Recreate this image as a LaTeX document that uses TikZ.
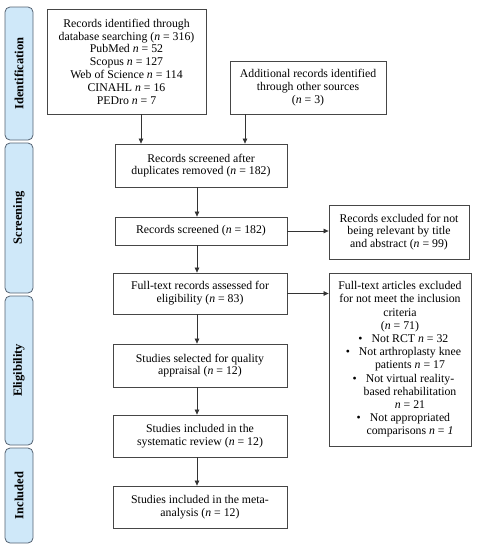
\documentclass[tikz,border=0pt]{standalone}
\usepackage{fontspec}
\setmainfont{Liberation Serif}
\usetikzlibrary{arrows.meta}
\definecolor{barfill}{RGB}{207,232,249}
\definecolor{barline}{RGB}{84,98,114}
\definecolor{boxline}{RGB}{70,70,70}
\newcommand\itm[1]{\hspace*{20pt}\llap{\textbullet\hspace{9pt}}#1}
\newcommand\cont[1]{\hspace*{20pt}#1}
\begin{document}
\begin{tikzpicture}[x=1pt,y=-1pt,
  box/.style={draw=boxline, line width=0.8pt, align=center, inner sep=2pt,
    font=\fontsize{11.8}{12.8}\selectfont},
  bar/.style={draw=barline, fill=barfill, line width=0.8pt, rounded corners=5pt,
    rotate=90, minimum height=28pt, inner sep=0pt,
    font=\fontsize{12.5}{14}\selectfont\bfseries},
  arr/.style={draw=black!80, line width=0.7pt, -{Triangle[length=5pt,width=4.5pt]}}
]
\path[use as bounding box] (0,0) rectangle (479,550);

% phase bars
\node[bar, minimum width=133pt] (pid) at (19,73.5) {Identification};
\node[bar, minimum width=150pt] (psc) at (19,218) {Screening};
\node[bar, minimum width=149pt] (pel) at (19,370.5) {Eligibility};
\node[bar, minimum width=95pt] (pin) at (19,495.5) {Included};

% boxes
\node[box, minimum width=159pt, minimum height=105pt] (b1) at (126.5,61.5)
  {Records identified through\\database searching (\textit{n} = 316)\\PubMed \textit{n} = 52\\Scopus \textit{n} = 127\\Web of Science \textit{n} = 114\\CINAHL \textit{n} = 16\\PEDro \textit{n} = 7};
\node[box, minimum width=156pt, minimum height=53pt] (b2) at (308,87.5)
  {Additional records identified\\through other sources\\(\textit{n} = 3)};
\node[box, minimum width=172pt, minimum height=43pt] (b3) at (201,165.5)
  {Records screened after\\duplicates removed (\textit{n} = 182)};
\node[box, minimum width=172pt, minimum height=28pt] (b4) at (201,231)
  {Records screened (\textit{n} = 182)};
\node[box, minimum width=174pt, minimum height=41pt] (b5) at (200,293.5)
  {Full-text records assessed for\\eligibility (\textit{n} = 83)};
\node[box, minimum width=174pt, minimum height=43pt] (b6) at (200,365.5)
  {Studies selected for quality\\appraisal (\textit{n} = 12)};
\node[box, minimum width=174pt, minimum height=42pt] (b7) at (200,436)
  {Studies included in the\\systematic review (\textit{n} = 12)};
\node[box, minimum width=174pt, minimum height=42pt] (b8) at (200,507)
  {Studies included in the meta-\\analysis (\textit{n} = 12)};
\node[box, minimum width=140pt, minimum height=54pt] (e1) at (399,232)
  {Records excluded for not\\being relevant by title\\and abstract (\textit{n} = 99)};
\node[box, minimum width=142pt, minimum height=173pt, font=\fontsize{11.8}{13.2}\selectfont] (e2) at (400,359.5)
  {Full-text articles excluded\\for not meet the inclusion\\criteria\\(\textit{n} = 71)\\
   \itm{Not RCT \textit{n} = 32}\\
   \itm{Not arthroplasty knee}\\\cont{patients \textit{n} = 17}\\
   \itm{Not virtual reality-}\\\cont{based rehabilitation}\\\cont{\textit{n} = 21}\\
   \itm{Not appropriated}\\\cont{comparisons \textit{n} = \textit{1}}};

% arrow x positions
\coordinate (xa) at (141,0);
\coordinate (xb) at (245,0);
\coordinate (xc) at (197,0);

\draw[arr] (b1.south -| xa) -- (b3.north -| xa);
\draw[arr] (b2.south -| xb) -- (b3.north -| xb);
\draw[arr] (b3.south -| xc) -- (b4.north -| xc);
\draw[arr] (b4.south -| xc) -- (b5.north -| xc);
\draw[arr] (b5.south -| xc) -- (b6.north -| xc);
\draw[arr] (b6.south -| xc) -- (b7.north -| xc);
\draw[arr] (b7.south -| xc) -- (b8.north -| xc);
\draw[arr] (b4.east) -- (b4.east -| e1.west);
\draw[arr] (b5.east) -- (b5.east -| e2.west);
\end{tikzpicture}
\end{document}
